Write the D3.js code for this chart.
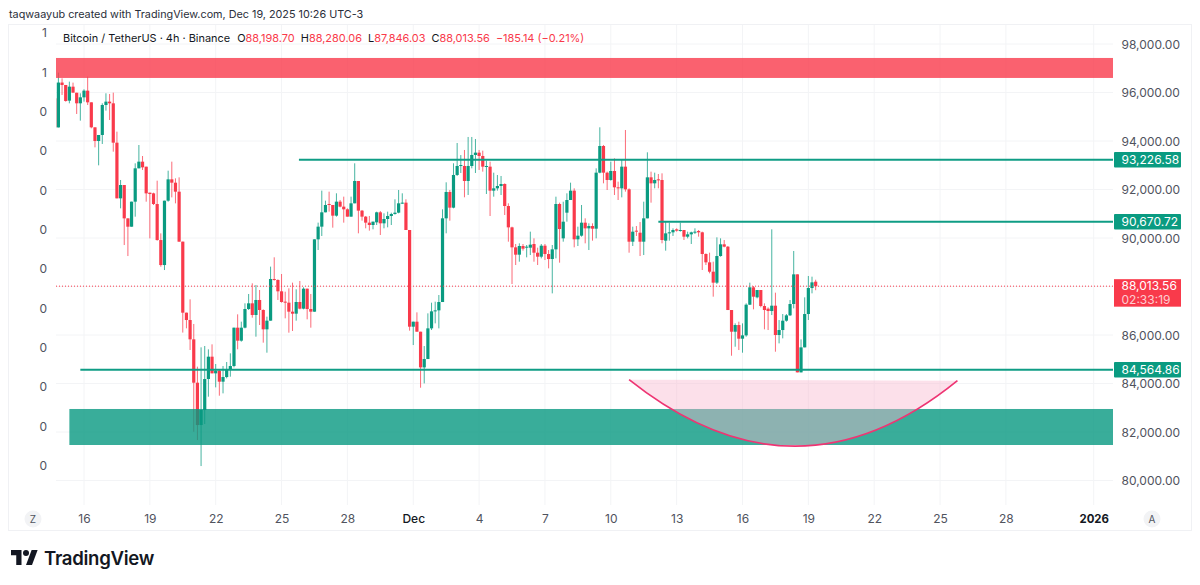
<!DOCTYPE html>
<html>
<head>
<meta charset="utf-8">
<script src="https://cdn.jsdelivr.net/npm/d3@7"></script>
<style>
  html, body { margin: 0; padding: 0; background: #fff; overflow: hidden; }
  text { font-family: Inter, "Noto Sans", sans-serif; }
</style>
</head>
<body>
<div id="chart"></div>
<script>
// candles, oldest first, one every 4h
const opens = [
  95760,94560,96410,96310,95664,96240,95990,95554,95800,96077,
  95595,94564,94000,94248,95485,95623,95554,93931,91635,92185,
  90810,90466,91498,92873,93148,92941,91869,91841,91401,89916,
  88885,91539,92419,92281,91910,89850,86921,86618,85821,84033,
  82287,82906,84185,85106,84419,84529,84075,84267,84583,84721,
  86302,85766,86302,87072,87306,86825,87444,87031,86234,86591,
  88310,88269,87801,87375,87334,86962,86880,87361,87086,87911,
  87072,86961,89945,90468,91059,91403,91361,90921,91499,91293,
  91183,90880,91430,92351,91128,90880,90633,90536,90646,91059,
  90605,90784,90908,90990,91045,91430,91458,90330,86343,86549,
  86136,84665,85009,86274,86975,87016,87360,90811,91898,91251,
  92599,92970,92970,92351,92970,93424,93520,93382,92942,92942,
  91952,92048,92145,92227,91319,90439,89615,89312,89670,89615,
  89601,89752,89394,89229,89683,89339,89133,89532,91402,89986,
  91044,91567,91952,89945,90096,90632,90398,90494,90384,92694,
  93794,92694,92392,92763,92090,92048,92942,92007,89848,90302,
  90219,89848,90811,92502,92254,92419,92392,89890,90192,90234,
  90357,90289,90330,90055,90151,90220,90289,90234,89340,88996,
  88611,88158,89257,89739,89642,87030,86136,86411,85848,85985,
  87250,87965,87553,87855,87195,87085,86989,87209,86000,86205,
  86590,86810,87278,88501,84459,85490,86865,87937,88198.7
];
const highs = [
  95760,96820,96585,96310,96448,96407,95990,95967,96132,96654,
  95595,94564,94248,95554,95967,95939,95994,94385,92392,92185,
  90810,91498,93079,93835,93381,92941,91869,91869,92364,90191,
  91539,92776,93148,92460,92501,89850,86921,87471,86454,84694,
  85491,85546,85409,85615,84804,84556,84721,84886,85244,86302,
  86852,86550,87306,87691,88131,88062,87856,87059,86756,88819,
  89204,88296,88516,87787,87925,88159,87884,88227,87966,87911,
  87691,89945,90633,91953,91540,91911,91361,91843,91568,91705,
  91224,91705,93080,92351,91155,90908,90908,90674,91086,91114,
  91018,91086,91045,91595,91980,91843,91595,90330,86549,86934,
  86136,85545,86893,87333,87374,87649,91183,92296,91980,93080,
  93918,93420,93630,94166,94166,94083,93630,93602,93190,93148,
  92694,92598,92557,92254,91429,90467,89752,89780,89752,89711,
  90261,89986,89601,89752,89752,89504,89711,91704,91457,91498,
  91842,92282,92048,90467,91361,90811,90604,90604,92873,94565,
  93836,92736,93148,93286,92323,93217,94454,92048,90467,90494,
  90659,91498,93533,92736,92694,92639,92667,90674,90632,90399,
  90399,90632,90330,90261,90261,90399,90330,90261,89368,89395,
  89024,90027,89986,89918,89670,87030,86480,86549,86480,87305,
  88158,88020,87855,87855,87305,87140,90357,87745,86617,86865,
  86865,87443,89464,88501,85820,87553,88433,88405,88280.06
];
const lows = [
  94560,94560,95898,95620,95554,95994,95114,94839,95623,95485,
  94523,93739,92997,93877,95252,94866,93560,91635,91223,89710,
  89256,90466,90879,92873,92804,91498,89985,91360,89889,88816,
  88679,91498,91676,91429,89848,86100,86275,85381,82012,81668,
  80596,82328,83456,84419,83841,83497,83594,84212,84281,84666,
  85409,85725,86275,87031,86715,85931,86412,85684,85271,86591,
  88241,87444,87334,86687,86096,86165,86591,87059,87059,86646,
  86302,86961,89505,90083,91059,91086,90426,90880,91265,90633,
  90880,90880,91430,90193,90715,90399,90303,90358,90536,90124,
  90399,90440,90536,90963,91018,91403,90330,86178,85586,86136,
  83826,84005,85009,86205,86480,86274,87360,90193,90715,91224,
  92558,92680,91678,91774,92874,92681,92805,92736,91815,90907,
  91704,91952,91773,90948,89848,88102,88886,89023,89477,89202,
  89298,89023,88886,89161,89092,88748,87717,89161,88982,89848,
  90673,91567,89615,89670,90055,89780,89504,89890,89986,92667,
  92255,91979,92364,91773,91567,91677,91911,89394,89670,90082,
  89257,89298,90811,91457,92048,92048,89780,89478,89890,90083,
  90261,90261,89918,89986,89753,90165,90055,88680,88886,88543,
  87580,88102,89230,89615,87030,85146,85517,85380,85270,85930,
  87236,87058,87511,87140,86233,86205,86824,85311,85655,85861,
  86549,86783,87099,84459,84459,85490,86618,87718,87846.03
];
const closes = [
  94560,96410,96310,95650,96241,95994,95554,95801,96077,95595,
  94564,94000,94248,95485,95623,95554,93931,91635,92185,90810,
  90466,91498,92873,93148,92914,91841,91814,91401,89916,88885,
  91539,92419,92281,91910,89848,86920,86618,85821,84033,82287,
  82906,84185,85106,84419,84529,84075,84267,84583,84721,86302,
  85766,86302,87072,87306,86825,87444,87031,86234,86591,88310,
  88269,87801,87361,87334,86962,86880,87361,87086,87911,87072,
  86962,89945,90468,91059,91361,91361,90921,91499,91293,91183,
  90880,91430,92351,91128,90880,90633,90536,90674,91059,90605,
  90784,90908,90990,91045,91430,91458,90330,86343,86549,86136,
  84665,85009,86274,86975,87016,87360,90811,91898,91251,92599,
  92970,93010,92351,92970,93424,93520,93382,92942,92970,91952,
  92048,92145,92227,91319,90439,89615,89312,89670,89560,89642,
  89725,89394,89229,89683,89339,89133,89532,91402,90371,90673,
  91567,91952,89945,90096,90632,90398,90494,90384,92694,93794,
  92694,92392,92763,92090,92048,92942,92007,89848,90261,90261,
  89848,90811,92502,92254,92392,92392,89917,90192,90234,90330,
  90302,90330,90055,90151,90234,90261,90234,89340,88996,88611,
  88158,89257,89739,89642,87030,86136,86411,85848,85985,87250,
  87965,87580,87855,87195,87030,86989,87209,86000,86205,86590,
  86810,87278,88501,84459,85490,86865,87937,88171,88013.56
];
const firstCandle = new Date(Date.UTC(2025, 10, 14, 16));
const lastPrice = 88013.56;

const priceTicks = [80000, 82000, 84000, 86000, 88000, 90000, 92000, 94000, 96000, 98000];
const timeTicks = [
  [new Date(Date.UTC(2025, 10, 16)), '16'], [new Date(Date.UTC(2025, 10, 19)), '19'],
  [new Date(Date.UTC(2025, 10, 22)), '22'], [new Date(Date.UTC(2025, 10, 25)), '25'],
  [new Date(Date.UTC(2025, 10, 28)), '28'], [new Date(Date.UTC(2025, 11, 1)), 'Dec'],
  [new Date(Date.UTC(2025, 11, 4)), '4'], [new Date(Date.UTC(2025, 11, 7)), '7'],
  [new Date(Date.UTC(2025, 11, 10)), '10'], [new Date(Date.UTC(2025, 11, 13)), '13'],
  [new Date(Date.UTC(2025, 11, 16)), '16'], [new Date(Date.UTC(2025, 11, 19)), '19'],
  [new Date(Date.UTC(2025, 11, 22)), '22'], [new Date(Date.UTC(2025, 11, 25)), '25'],
  [new Date(Date.UTC(2025, 11, 28)), '28'], [new Date(Date.UTC(2026, 0, 1)), '2026']
];
const leftScaleLabels = ['1', '1', '0', '0', '0', '0', '0', '0', '0', '0', '0', '0'];

// drawings
const levels = [
  {price: 93226.58, from: new Date(Date.UTC(2025, 10, 25, 19))},
  {price: 90670.72, from: new Date(Date.UTC(2025, 11, 12, 4))},
  {price: 84564.86, from: new Date(Date.UTC(2025, 10, 15, 20))}
];
const redZone = {top: 97424, bottom: 96600, from: new Date(Date.UTC(2025, 10, 14))};
const greenZone = {top: 82949, bottom: 81464, from: new Date(Date.UTC(2025, 10, 15, 8))};
const arcTimes = [new Date(Date.UTC(2025, 11, 10, 20)), new Date(Date.UTC(2025, 11, 18, 10)), new Date(Date.UTC(2025, 11, 25, 19))];
const arcPrices = [84157, 78689, 84116];

const title = 'taqwaayub created with TradingView.com, Dec 19, 2025 10:26 UTC-3';
const legendName = 'Bitcoin / TetherUS · 4h · Binance';
const legendLetters = ['O', 'H', 'L', 'C'];
const legendValues = ['88,198.70', '88,280.06', '87,846.03', '88,013.56'];
const legendChange = '−185.14 (−0.21%)';
const countdown = '02:33:19';

const width = 1200, height = 585;
const pane = {left: 56, right: 1113, top: 25, bottom: 505};
const GREEN = '#0a9b81', RED = '#f93a4b', GRID = '#f3f4f6', LABEL = '#50535e';

const svg = d3.select('#chart').append('svg')
    .attr('width', width)
    .attr('height', height);

svg.append('defs').append('clipPath').attr('id', 'pane')
    .append('rect')
    .attr('x', pane.left).attr('y', pane.top)
    .attr('width', pane.right - pane.left).attr('height', pane.bottom - pane.top);

const candleTime = i => d3.utcHour.offset(firstCandle, i * 4);

const x = d3.scaleUtc()
    .domain([timeTicks[0][0], timeTicks[timeTicks.length - 1][0]])
    .range([84, 1093.7]);

const y = d3.scaleLinear()
    .domain([80000, 98000])
    .range([480.5, 44]);

// Frame
svg.append('rect')
    .attr('x', 8.5).attr('y', 24.5)
    .attr('width', 1183).attr('height', 506)
    .attr('fill', 'none')
    .attr('stroke', '#f0f1f4');

// Grid
const timeAxis = d3.axisBottom(x)
    .tickValues(timeTicks.map(d => d[0]))
    .tickFormat((d, i) => timeTicks[i][1])
    .tickSize(0)
    .tickPadding(0);

// 88,000 sits behind the last price badge, so its label is left out
const priceAxis = d3.axisRight(y)
    .tickValues(priceTicks.filter(d => d !== 88000))
    .tickFormat(d3.format(',.2f'))
    .tickSize(0)
    .tickPadding(0);

const grid = svg.append('g');
grid.selectAll('.vgrid')
    .data(timeTicks)
    .enter()
    .append('line')
    .attr('x1', d => x(d[0])).attr('x2', d => x(d[0]))
    .attr('y1', pane.top).attr('y2', pane.bottom)
    .attr('stroke', GRID);
grid.selectAll('.hgrid')
    .data(priceTicks)
    .enter()
    .append('line')
    .attr('x1', pane.left).attr('x2', pane.right)
    .attr('y1', d => y(d)).attr('y2', d => y(d))
    .attr('stroke', GRID);

const plot = svg.append('g').attr('clip-path', 'url(#pane)');

// Candles
const candles = plot.selectAll('.candle')
    .data(opens.map((o, i) => i))
    .enter()
    .append('g')
    .attr('class', 'candle')
    .attr('fill', i => closes[i] >= opens[i] ? GREEN : RED)
    .attr('stroke', i => closes[i] >= opens[i] ? GREEN : RED);

candles.append('line')
    .attr('x1', i => x(candleTime(i))).attr('x2', i => x(candleTime(i)))
    .attr('y1', i => y(highs[i])).attr('y2', i => y(lows[i]))
    .attr('stroke-width', 1)
    .attr('stroke-opacity', 0.75);

candles.append('rect')
    .attr('stroke', 'none')
    .attr('x', i => x(candleTime(i)) - 1.6)
    .attr('width', 3.2)
    .attr('y', i => y(Math.max(opens[i], closes[i])))
    .attr('height', i => Math.max(1, Math.abs(y(opens[i]) - y(closes[i]))));

// Zones
plot.append('rect')
    .attr('x', x(redZone.from)).attr('width', pane.right - x(redZone.from))
    .attr('y', y(redZone.top)).attr('height', y(redZone.bottom) - y(redZone.top))
    .attr('fill', RED).attr('fill-opacity', 0.8);
plot.append('rect')
    .attr('x', x(greenZone.from)).attr('width', pane.right - x(greenZone.from))
    .attr('y', y(greenZone.top)).attr('height', y(greenZone.bottom) - y(greenZone.top))
    .attr('fill', '#089981').attr('fill-opacity', 0.8);

// Arc
const arc = d3.path();
arc.moveTo(x(arcTimes[0]), y(arcPrices[0]));
arc.quadraticCurveTo(x(arcTimes[1]), y(arcPrices[1]), x(arcTimes[2]), y(arcPrices[2]));
plot.append('path')
    .attr('d', arc.toString())
    .attr('fill', '#f8b8cf').attr('fill-opacity', 0.44)
    .attr('stroke', 'none');
plot.append('path')
    .attr('d', arc.toString())
    .attr('fill', 'none')
    .attr('stroke', '#ee3573')
    .attr('stroke-width', 1.7);

// Horizontal rays
plot.selectAll('.level')
    .data(levels)
    .enter()
    .append('line')
    .attr('x1', d => x(d.from)).attr('x2', pane.right)
    .attr('y1', d => y(d.price)).attr('y2', d => y(d.price))
    .attr('stroke', '#0f9d85')
    .attr('stroke-width', 1.9);

// Last price
plot.append('line')
    .attr('x1', pane.left).attr('x2', pane.right)
    .attr('y1', y(lastPrice)).attr('y2', y(lastPrice))
    .attr('stroke', RED)
    .attr('stroke-dasharray', '1 2');

// Left scale
const leftY = d3.scalePoint()
    .domain(d3.range(leftScaleLabels.length))
    .range([33, 466]);
svg.selectAll('.left-label')
    .data(leftScaleLabels)
    .enter()
    .append('text')
    .attr('x', 47)
    .attr('y', (d, i) => leftY(i))
    .attr('dy', '0.35em')
    .attr('text-anchor', 'end')
    .attr('font-size', 12)
    .attr('fill', LABEL)
    .text(d => d);

// Right scale
svg.append('g')
    .attr('transform', 'translate(1121.5,0)')
    .call(priceAxis)
    .call(g => g.select('.domain').remove())
    .call(g => g.selectAll('line').remove())
    .call(g => g.selectAll('text')
        .attr('x', 0)
        .attr('dy', '0.35em')
        .attr('text-anchor', 'start')
        .attr('font-size', 12)
        .attr('font-family', 'Inter')
        .attr('fill', LABEL));

// Price badges
const badges = svg.selectAll('.badge')
    .data(levels)
    .enter()
    .append('g');
badges.append('rect')
    .attr('x', 1114).attr('width', 67)
    .attr('y', d => y(d.price) - 7.7).attr('height', 15.4)
    .attr('rx', 1)
    .attr('fill', GREEN);
badges.append('text')
    .attr('x', 1121.5)
    .attr('y', d => y(d.price))
    .attr('dy', '0.35em')
    .attr('font-size', 12)
    .attr('fill', '#fff')
    .text(d => d3.format(',.2f')(d.price));

svg.append('rect')
    .attr('x', 1114).attr('width', 67)
    .attr('y', y(lastPrice) - 7).attr('height', 27.5)
    .attr('fill', RED);
svg.append('text')
    .attr('x', 1121.5)
    .attr('y', y(lastPrice))
    .attr('dy', '0.35em')
    .attr('font-size', 12)
    .attr('fill', '#fff')
    .text(d3.format(',.2f')(lastPrice));
svg.append('text')
    .attr('x', 1121.5)
    .attr('y', y(lastPrice) + 13.5)
    .attr('dy', '0.35em')
    .attr('font-size', 12)
    .attr('fill', '#fff')
    .attr('fill-opacity', 0.75)
    .text(countdown);

// Time scale
svg.append('g')
    .attr('transform', 'translate(0,519)')
    .call(timeAxis)
    .call(g => g.select('.domain').remove())
    .call(g => g.selectAll('line').remove())
    .call(g => g.selectAll('text')
        .attr('y', 0)
        .attr('dy', '0.35em')
        .attr('font-size', d => d.getUTCMonth() === 0 ? 11.4 : 12)
        .attr('font-family', 'Inter')
        .attr('font-weight', d => d.getUTCMonth() === 0 ? 700 : (d.getUTCDate() === 1 ? 500 : 400))
        .attr('fill', d => d.getUTCDate() === 1 ? '#131722' : LABEL));

// Scale buttons
[['Z', 33], ['A', 1152]].forEach(([label, cx]) => {
    svg.append('circle')
        .attr('cx', cx).attr('cy', 519).attr('r', 8.5)
        .attr('fill', '#f2f3f5');
    svg.append('text')
        .attr('x', cx).attr('y', 519)
        .attr('dy', '0.35em')
        .attr('text-anchor', 'middle')
        .attr('font-size', 10)
        .attr('fill', LABEL)
        .text(label);
});

// Header
svg.append('text')
    .attr('x', 9).attr('y', 18)
    .attr('font-size', 10.8)
    .attr('fill', '#2a2e39')
    .text(title);

const legend = svg.append('text')
    .attr('x', 63).attr('y', 42)
    .attr('font-size', 10.95)
    .attr('fill', '#131722')
    .attr('xml:space', 'preserve');
legend.append('tspan').text(legendName);
legendLetters.forEach((letter, i) => {
    legend.append('tspan').attr('dx', i === 0 ? 7 : 6).text(letter);
    legend.append('tspan').attr('fill', RED).text(legendValues[i]);
});
legend.append('tspan').attr('dx', 6).attr('fill', RED).text(legendChange);

// Logo
const logo = svg.append('g').attr('transform', 'translate(11,547.75) scale(0.75)').attr('fill', '#131722');
logo.append('path').attr('d', 'M14 23H7V10H0V3h14v20zM28 23h-8l7.5-20h8L28 23z');
logo.append('circle').attr('cx', 20).attr('cy', 7).attr('r', 4);
svg.append('text')
    .attr('x', 44).attr('y', 564.5)
    .attr('font-size', 18.6)
    .attr('font-weight', 600)
    .attr('letter-spacing', -0.3)
    .attr('fill', '#131722')
    .text('TradingView');
</script>
</body>
</html>
